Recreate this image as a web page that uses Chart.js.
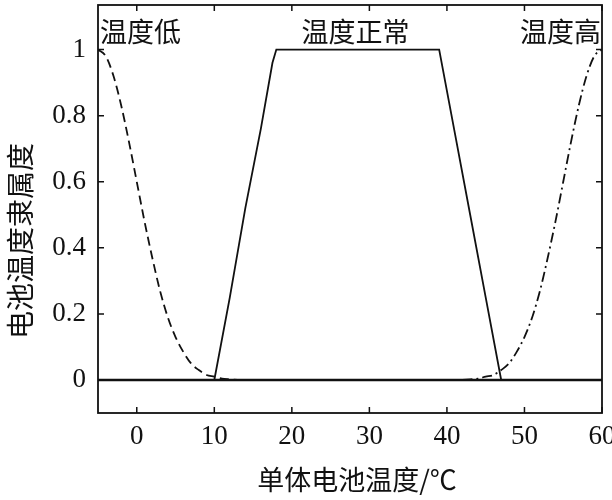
<!DOCTYPE html>
<html>
<head>
<meta charset="utf-8">
<script src="https://cdn.jsdelivr.net/npm/chart.js@4/dist/chart.umd.min.js"></script>
<style>
  html, body { margin: 0; padding: 0; background: #fff; }
  #wrap { width: 612px; height: 500px; }
</style>
</head>
<body>
<div id="wrap"><canvas id="c" width="612" height="500"></canvas></div>
<script>
// ---- data ----
const lowX  = [-5, -4, -3, -2, -1, 0, 1, 2, 3, 4, 5, 6, 7, 8, 9, 10, 11, 12, 13];
const lowY  = [1, 0.98, 0.92, 0.83, 0.72, 0.60, 0.48, 0.37, 0.27, 0.19, 0.13, 0.085, 0.05, 0.03, 0.015, 0.01, 0.004, 0.002, 0];
const highX = [42, 43, 44, 45, 46, 47, 48, 49, 50, 51, 52, 53, 54, 55, 56, 57, 58, 59, 60];
const highY = [0, 0.002, 0.004, 0.01, 0.015, 0.03, 0.05, 0.085, 0.13, 0.19, 0.27, 0.37, 0.48, 0.60, 0.72, 0.83, 0.92, 0.98, 1];
const normX = [10, 12, 14, 16, 17.5, 18, 39, 41, 43, 45, 47];
const normY = [0, 0.25, 0.52, 0.76, 0.96, 1, 1, 0.75, 0.5, 0.25, 0];
const baseX = [-5, 60];
const baseY = [0, 0];
const xTicks = [0, 10, 20, 30, 40, 50, 60];
const yTicks = [0, 0.2, 0.4, 0.6, 0.8, 1];
const regionLabels = ['温度低', '温度正常', '温度高'];
const regionX = [-5, 28.2, 60];
const xTitle = '单体电池温度/℃';
const yTitle = '电池温度隶属度';

const pts = (xs, ys) => xs.map((x, i) => ({x: x, y: ys[i]}));

const serif = '"Liberation Serif", "DejaVu Serif", serif';
const cjk = '"Noto Sans CJK SC", sans-serif';

const framePlugin = {
  id: 'frame',
  afterDraw(chart) {
    const ctx = chart.ctx;
    const {left, right, top, bottom} = chart.chartArea;
    const xs = chart.scales.x, ys = chart.scales.y;
    ctx.save();
    ctx.strokeStyle = '#111';
    ctx.lineWidth = 1.8;
    ctx.strokeRect(left, top, right - left, bottom - top);
    ctx.lineWidth = 1.5;
    const tl = 6;
    xTicks.forEach(v => {
      const p = xs.getPixelForValue(v);
      ctx.beginPath();
      ctx.moveTo(p, bottom); ctx.lineTo(p, bottom - tl);
      ctx.moveTo(p, top); ctx.lineTo(p, top + tl);
      ctx.stroke();
    });
    yTicks.forEach(v => {
      const p = ys.getPixelForValue(v);
      ctx.beginPath();
      ctx.moveTo(left, p); ctx.lineTo(left + tl, p);
      ctx.moveTo(right, p); ctx.lineTo(right - tl, p);
      ctx.stroke();
    });
    ctx.fillStyle = '#111';
    ctx.textBaseline = 'middle';
    // region labels
    ctx.font = '27px ' + cjk;
    const ly = ys.getPixelForValue(1.055);
    const aligns = ['left', 'center', 'right'];
    const offs = [2, 0, -1];
    regionLabels.forEach((t, i) => {
      ctx.textAlign = aligns[i];
      ctx.fillText(t, xs.getPixelForValue(regionX[i]) + offs[i], ly);
    });
    // axis titles
    ctx.textAlign = 'center';
    ctx.font = '27px ' + cjk;
    ctx.fillText(xTitle, 357, 480);
    ctx.save();
    ctx.translate(20, 241);
    ctx.rotate(-Math.PI / 2);
    ctx.font = '28px ' + cjk;
    ctx.fillText(yTitle, 0, 0);
    ctx.restore();
    ctx.restore();
  }
};

new Chart(document.getElementById('c'), {
  type: 'scatter',
  data: {
    datasets: [
      { label: 'base', data: pts(baseX, baseY), showLine: true, borderColor: '#111', borderWidth: 2.5, pointRadius: 0 },
      { label: '温度低', data: pts(lowX, lowY), showLine: true, borderColor: '#111', borderWidth: 1.8, borderDash: [9, 5], pointRadius: 0, cubicInterpolationMode: 'monotone' },
      { label: '温度正常', data: pts(normX, normY), showLine: true, borderColor: '#111', borderWidth: 1.8, pointRadius: 0 },
      { label: '温度高', data: pts(highX, highY), showLine: true, borderColor: '#111', borderWidth: 1.8, borderDash: [10, 4, 2, 4], pointRadius: 0, cubicInterpolationMode: 'monotone' }
    ]
  },
  options: {
    responsive: false,
    animation: false,
    devicePixelRatio: 1,
    layout: { padding: { top: 5, right: 10, left: 0, bottom: 0 } },
    plugins: { legend: { display: false }, tooltip: { enabled: false } },
    scales: {
      x: {
        type: 'linear', min: -5, max: 60,
        grid: { display: false, drawTicks: false },
        border: { display: false },
        afterBuildTicks: s => { s.ticks = xTicks.map(v => ({value: v})); },
        afterFit: s => { s.height = 87; s.paddingLeft = 0; s.paddingRight = 0; },
        ticks: { color: '#111', font: { family: serif, size: 27 }, padding: 8, maxRotation: 0 },
        title: { display: false }
      },
      y: {
        type: 'linear', min: -0.1, max: 1.135,
        grid: { display: false, drawTicks: false },
        border: { display: false },
        afterBuildTicks: s => { s.ticks = yTicks.map(v => ({value: v})); },
        afterFit: s => { s.width = 98; s.paddingTop = 0; s.paddingBottom = 0; },
        ticks: { color: '#111', font: { family: serif, size: 27 }, padding: 12, callback: v => String(v) },
        title: { display: false }
      }
    }
  },
  plugins: [framePlugin]
});
</script>
</body>
</html>
